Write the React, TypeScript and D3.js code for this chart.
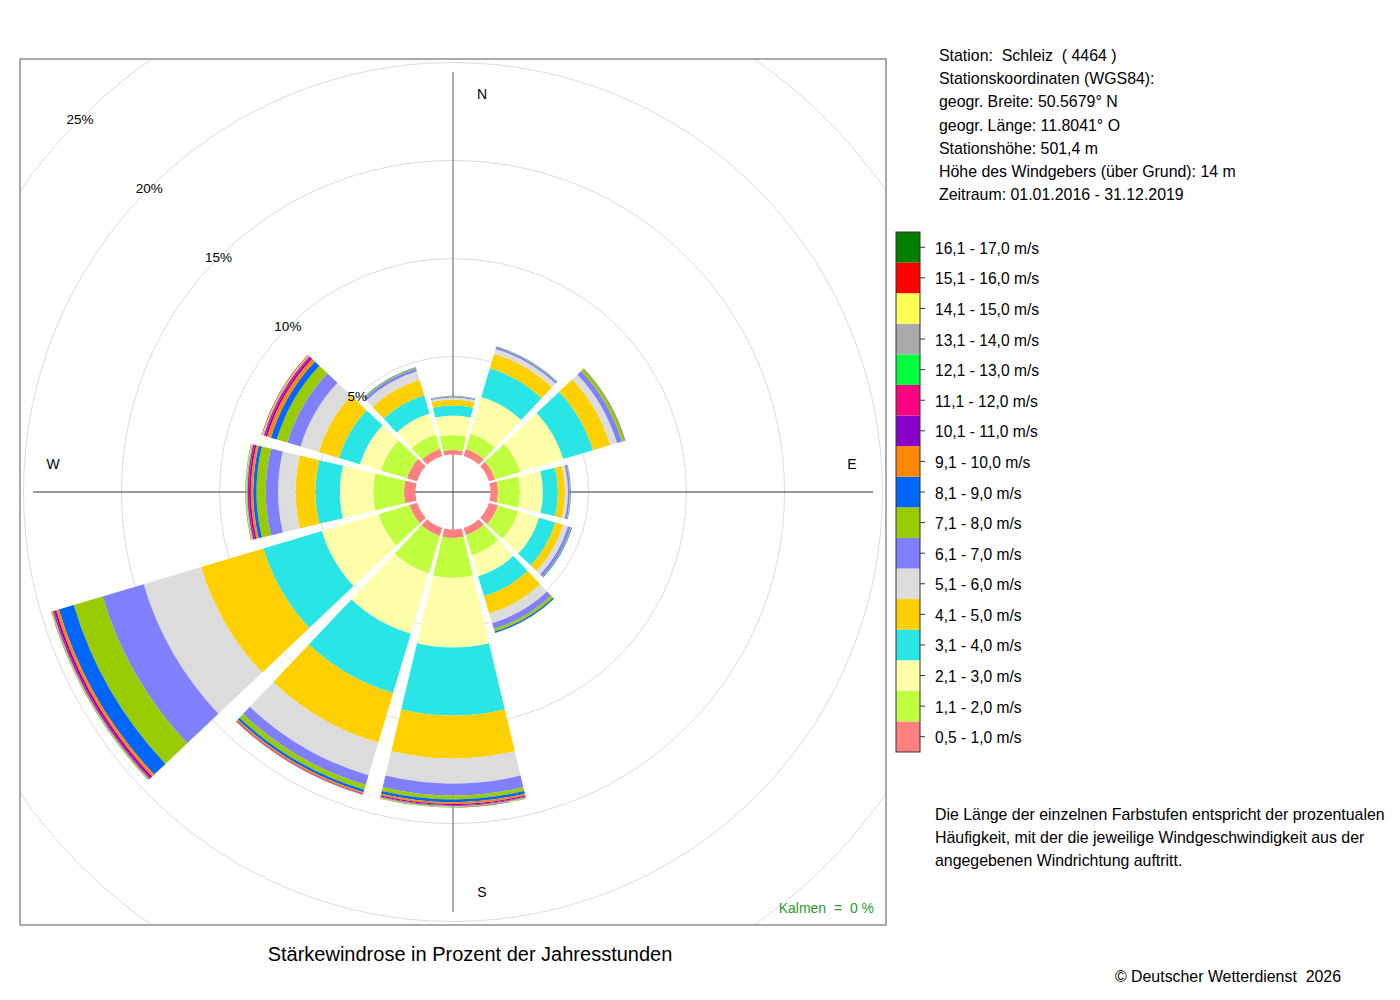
import * as d3 from 'd3';

// wind directions (degrees, clockwise from north) of the 12 sectors
const directions = [0, 30, 60, 90, 120, 150, 180, 210, 240, 270, 300, 330];

const speedClasses = [
  '0,5 - 1,0 m/s', '1,1 - 2,0 m/s', '2,1 - 3,0 m/s', '3,1 - 4,0 m/s',
  '4,1 - 5,0 m/s', '5,1 - 6,0 m/s', '6,1 - 7,0 m/s', '7,1 - 8,0 m/s',
  '8,1 - 9,0 m/s', '9,1 - 10,0 m/s', '10,1 - 11,0 m/s', '11,1 - 12,0 m/s',
  '12,1 - 13,0 m/s', '13,1 - 14,0 m/s', '14,1 - 15,0 m/s', '15,1 - 16,0 m/s',
  '16,1 - 17,0 m/s'
];

const classColors = [
  '#ff8080', '#bfff3f', '#ffffaa', '#2ae5e5', '#ffd000', '#dcdcdc',
  '#8080ff', '#99cc00', '#0066ff', '#ff8800', '#8800cc', '#ff0080',
  '#00ff40', '#aaaaaa', '#ffff55', '#ff0000', '#007f00'
];

// percent of hours per speed class, one array per direction sector
const freq000 = [0.23, 0.77, 0.99, 0.51, 0.31, 0.10, 0.05, 0.02, 0.01, 0, 0, 0, 0, 0, 0, 0, 0];
const freq030 = [0.38, 0.82, 1.94, 1.53, 0.77, 0.26, 0.10, 0.03, 0.01, 0, 0, 0, 0, 0, 0, 0, 0];
const freq060 = [0.33, 1.33, 2.30, 1.58, 0.92, 0.36, 0.26, 0.15, 0.03, 0.01, 0, 0, 0, 0, 0, 0, 0];
const freq090 = [0.38, 1.12, 1.17, 0.77, 0.36, 0.15, 0.10, 0.03, 0.02, 0, 0, 0, 0, 0, 0, 0, 0];
const freq120 = [0.48, 1.07, 1.12, 0.87, 0.41, 0.26, 0.15, 0.04, 0.03, 0, 0, 0, 0, 0, 0, 0, 0];
const freq150 = [0.38, 1.07, 1.12, 1.07, 0.92, 0.51, 0.31, 0.13, 0.08, 0.01, 0, 0, 0, 0, 0, 0, 0];
const freq180 = [0.43, 2.04, 3.55, 3.47, 2.19, 1.28, 0.61, 0.20, 0.14, 0.09, 0.06, 0.04, 0.03, 0.02, 0.01, 0.01, 0.01];
const freq210 = [0.43, 1.99, 3.21, 3.16, 2.65, 1.73, 0.51, 0.26, 0.13, 0.08, 0.03, 0.02, 0.01, 0.01, 0, 0, 0];
const freq240 = [0.40, 1.66, 3.01, 3.11, 3.32, 3.06, 2.19, 1.53, 0.79, 0.15, 0.10, 0.08, 0.04, 0.02, 0.01, 0.01, 0.01];
const freq270 = [0.59, 1.57, 1.70, 1.24, 1.02, 0.89, 0.63, 0.47, 0.17, 0.12, 0.09, 0.08, 0.04, 0.03, 0.02, 0.01, 0.01];
const freq300 = [0.54, 1.38, 1.12, 1.12, 1.07, 0.97, 0.71, 0.56, 0.31, 0.20, 0.10, 0.08, 0.03, 0.03, 0.03, 0.02, 0.01];
const freq330 = [0.38, 0.77, 1.12, 0.97, 0.82, 0.46, 0.13, 0.05, 0.03, 0, 0, 0, 0, 0, 0, 0, 0];

const sectorFreqs = [
  freq000, freq030, freq060, freq090, freq120, freq150,
  freq180, freq210, freq240, freq270, freq300, freq330
];

const ringTicks = [5, 10, 15, 20, 25];

const stationLines = [
  'Station:  Schleiz  ( 4464 )',
  'Stationskoordinaten (WGS84):',
  'geogr. Breite: 50.5679° N',
  'geogr. Länge: 11.8041° O',
  'Stationshöhe: 501,4 m',
  'Höhe des Windgebers (über Grund): 14 m',
  'Zeitraum: 01.01.2016 - 31.12.2019'
];

const noteLines = [
  'Die Länge der einzelnen Farbstufen entspricht der prozentualen',
  'Häufigkeit, mit der die jeweilige Windgeschwindigkeit aus der',
  'angegebenen Windrichtung auftritt.'
];

const FONT = '"Liberation Sans", Arial, Helvetica, sans-serif';

export default function App() {
  const cx = 453;
  const cy = 492;
  const frame = { x: 20, y: 59, w: 866, h: 866 };
  const halfWidth = 13.4; // degrees of each wedge either side of its direction

  const rScale = d3.scaleLinear().domain([0, 25]).range([37.5, 527.5]);
  const rad = (deg: number) => (deg * Math.PI) / 180;

  const arc = d3.arc<{ inner: number; outer: number; dir: number }>()
    .innerRadius(d => rScale(d.inner))
    .outerRadius(d => rScale(d.outer))
    .startAngle(d => rad(d.dir - halfWidth))
    .endAngle(d => rad(d.dir + halfWidth));

  const wedges: { inner: number; outer: number; dir: number; color: string; key: string }[] = [];
  sectorFreqs.forEach((vals, i) => {
    const cum = Array.from(d3.cumsum(vals));
    vals.forEach((v, j) => {
      if (v <= 0) return;
      wedges.push({
        inner: j === 0 ? 0 : cum[j - 1],
        outer: cum[j],
        dir: directions[i],
        color: classColors[j],
        key: `${i}-${j}`
      });
    });
  });

  const legendY = d3
    .scaleBand<number>()
    .domain(d3.range(speedClasses.length).reverse())
    .range([232, 752]);

  return (
    <svg
      width={1400}
      height={1000}
      style={{ position: 'absolute', left: 0, top: 0, background: '#fff' }}
      fontFamily={FONT}
    >
      <defs>
        <clipPath id="plotClip">
          <rect x={frame.x} y={frame.y} width={frame.w} height={frame.h} />
        </clipPath>
      </defs>

      {/* grid circles */}
      <g clipPath="url(#plotClip)" fill="none" stroke="#dcdcdc" strokeWidth={1}>
        {ringTicks.map(t => (
          <circle key={t} cx={cx} cy={cy} r={rScale(t)} />
        ))}
      </g>

      {/* axes */}
      <line x1={cx} x2={cx} y1={72} y2={912} stroke="#999" strokeWidth={1.6} />
      <line x1={33} x2={873} y1={cy} y2={cy} stroke="#333" strokeWidth={1} />

      {/* wind rose wedges */}
      <g transform={`translate(${cx},${cy})`}>
        {wedges.map(w => (
          <path key={w.key} d={arc(w) as string} fill={w.color} />
        ))}
      </g>

      {/* ring labels along 315° */}
      {ringTicks.map(t => {
        const r = rScale(t);
        return (
          <text
            key={t}
            x={cx - r * Math.SQRT1_2}
            y={cy - r * Math.SQRT1_2}
            fontSize={13.5}
            textAnchor="middle"
            dominantBaseline="central"
            fill="#000"
          >
            {t}%
          </text>
        );
      })}

      {/* compass labels */}
      <g fontSize={14} fill="#000" textAnchor="middle" dominantBaseline="central">
        <text x={482} y={94}>N</text>
        <text x={482} y={892}>S</text>
        <text x={53} y={464}>W</text>
        <text x={852} y={464}>E</text>
      </g>

      <text x={874} y={913} fontSize={14} fill="#2e9a2e" textAnchor="end" xmlSpace="preserve">
        {'Kalmen  =  0 %'}
      </text>

      <rect x={frame.x} y={frame.y} width={frame.w} height={frame.h} fill="none" stroke="#555" strokeWidth={1} />

      <text x={470} y={961} fontSize={20} textAnchor="middle" fill="#000">
        Stärkewindrose in Prozent der Jahresstunden
      </text>

      {/* station info */}
      <g fontSize={15.9} fill="#000">
        {stationLines.map((s, i) => (
          <text key={i} x={939} y={61 + i * 23.2} xmlSpace="preserve">{s}</text>
        ))}
      </g>

      {/* legend */}
      <g>
        {speedClasses.map((label, j) => {
          const y = legendY(j) as number;
          const h = legendY.bandwidth();
          return (
            <g key={label}>
              <rect x={896} y={y} width={24} height={h} fill={classColors[j]} />
              <line x1={920} x2={925} y1={y + h / 2} y2={y + h / 2} stroke="#333" />
              <text x={935} y={y + h / 2 + 1} fontSize={15.6} dominantBaseline="central" fill="#000">
                {label}
              </text>
            </g>
          );
        })}
        <rect x={896} y={232} width={24} height={520} fill="none" stroke="#333" strokeWidth={1} />
      </g>

      <g fontSize={15.9} fill="#000">
        {noteLines.map((s, i) => (
          <text key={i} x={935} y={820 + i * 23}>{s}</text>
        ))}
      </g>

      <text x={1341} y={982} fontSize={15.9} textAnchor="end" fill="#000" xmlSpace="preserve">
        {'© Deutscher Wetterdienst  2026'}
      </text>
    </svg>
  );
}
